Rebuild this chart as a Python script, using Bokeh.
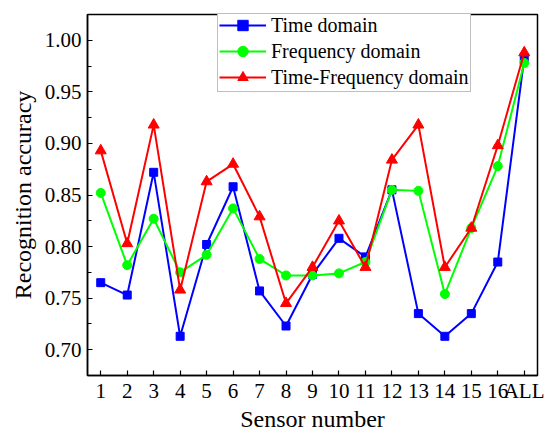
from bokeh.plotting import figure
from bokeh.models import FixedTicker, Range1d, Legend, LegendItem, PrintfTickFormatter
from bokeh.embed import file_html
from bokeh.resources import INLINE

sensors = list(range(1, 18))
tick_labels = [str(i) for i in range(1, 17)] + ["ALL"]
time_domain = [0.765, 0.753, 0.872, 0.713, 0.802, 0.858, 0.757, 0.723, 0.773,
               0.808, 0.790, 0.855, 0.735, 0.713, 0.735, 0.785, 0.983]
freq_domain = [0.852, 0.782, 0.827, 0.775, 0.792, 0.837, 0.788, 0.772, 0.772,
               0.774, 0.785, 0.855, 0.854, 0.754, 0.818, 0.878, 0.978]
tf_domain = [0.893, 0.803, 0.918, 0.758, 0.863, 0.880, 0.829, 0.745, 0.780,
             0.825, 0.780, 0.884, 0.918, 0.780, 0.818, 0.898, 0.988]
y_ticks = [0.70, 0.75, 0.80, 0.85, 0.90, 0.95, 1.00]
y_minor = [0.675, 0.725, 0.775, 0.825, 0.875, 0.925, 0.975, 1.025]

FONT = "Liberation Serif"

p = figure(width=544, height=434, output_backend="svg", toolbar_location=None,
           x_range=Range1d(0.5, 17.5), y_range=Range1d(0.675, 1.025),
           min_border_left=87, min_border_right=7, min_border_top=14, min_border_bottom=57)
p.background_fill_color = "white"
p.border_fill_color = "white"
p.outline_line_color = "black"
p.outline_line_width = 1.5
p.xgrid.visible = False
p.ygrid.visible = False

blue = "#0000FF"; green = "#00FF00"; red = "#FF0000"

l1 = p.line(sensors, time_domain, line_color=blue, line_width=2)
m1 = p.scatter(sensors, time_domain, marker="square", size=8, fill_color=blue, line_color=blue)
l2 = p.line(sensors, freq_domain, line_color=green, line_width=2)
m2 = p.scatter(sensors, freq_domain, marker="circle", size=9, fill_color=green, line_color=green)
l3 = p.line(sensors, tf_domain, line_color=red, line_width=2)
m3 = p.scatter(sensors, tf_domain, marker="triangle", size=11, fill_color=red, line_color=red)

legend = Legend(items=[
    LegendItem(label="Time domain", renderers=[l1, m1]),
    LegendItem(label="Frequency domain", renderers=[l2, m2]),
    LegendItem(label="Time-Frequency domain", renderers=[l3, m3]),
], location=(130, 283))
legend.label_text_font = FONT
legend.label_text_font_size = "20px"
legend.label_text_color = "black"
legend.glyph_width = 47
legend.glyph_height = 26
legend.label_height = 26
legend.spacing = 0
legend.padding = 1
legend.margin = 0
legend.label_standoff = 5
legend.border_line_color = "#808080"
legend.border_line_width = 1.5
legend.background_fill_alpha = 1.0
p.add_layout(legend, "center")

xa = p.xaxis[0]
xa.ticker = FixedTicker(ticks=sensors, minor_ticks=[])
xa.major_label_overrides = {s: t for s, t in zip(sensors, tick_labels)}
ya = p.yaxis[0]
ya.ticker = FixedTicker(ticks=y_ticks, minor_ticks=y_minor)
ya.formatter = PrintfTickFormatter(format="%.2f")

for ax in (xa, ya):
    ax.axis_line_color = "black"
    ax.axis_line_width = 1.5
    ax.major_tick_in = 5
    ax.major_tick_out = 0
    ax.minor_tick_in = 4
    ax.minor_tick_out = 0
    ax.major_tick_line_color = "black"
    ax.minor_tick_line_color = "black"
    ax.major_tick_line_width = 1.2
    ax.minor_tick_line_width = 1.2
    ax.major_label_text_font = FONT
    ax.major_label_text_font_size = "21px"
    ax.major_label_text_color = "black"
    ax.axis_label_text_font = FONT
    ax.axis_label_text_font_size = "24px"
    ax.axis_label_text_font_style = "normal"
    ax.axis_label_text_color = "black"

xa.axis_label = "Sensor number"
ya.axis_label = "Recognition accuracy"
xa.major_label_standoff = 3
xa.axis_label_standoff = 0
ya.major_label_standoff = 6
ya.axis_label_standoff = 6

open("out.html", "w").write(file_html(p, INLINE))
